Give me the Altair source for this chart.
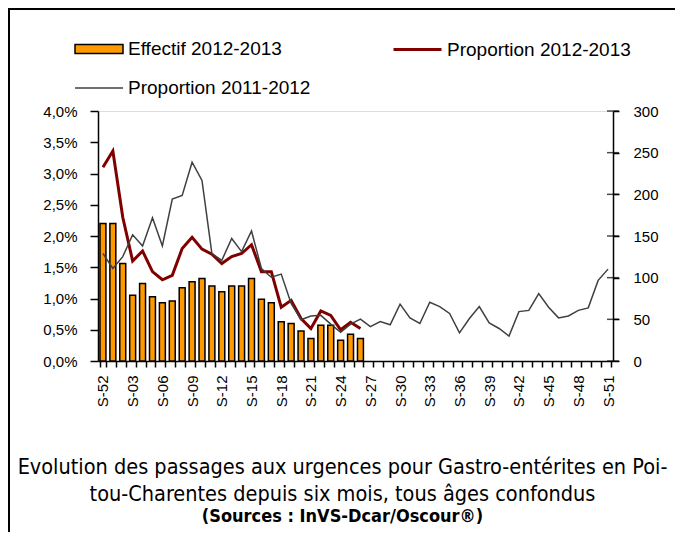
import altair as alt
import pandas as pd

weeks = ["S-52"] + ["S-%02d" % i for i in range(1, 52)]
shown_labels = weeks[::3]

effectif_2012_2013 = [165, 165, 117, 79, 93, 77, 70, 72, 88, 95, 99, 90, 83, 90,
                      90, 99, 74, 70, 47, 45, 36, 27, 43, 43, 25, 32, 27]
prop_2012_2013 = [3.10, 3.36, 2.30, 1.60, 1.76, 1.43, 1.30, 1.37, 1.80, 1.98, 1.79,
                  1.71, 1.56, 1.67, 1.72, 1.86, 1.43, 1.43, 0.86, 0.97, 0.68, 0.52,
                  0.80, 0.73, 0.50, 0.62, 0.52]
prop_2011_2012 = [1.72, 1.48, 1.67, 2.02, 1.84, 2.29, 1.84, 2.59, 2.65, 3.18, 2.89,
                  1.72, 1.61, 1.96, 1.75, 2.08, 1.48, 1.34, 1.39, 0.92, 0.66, 0.72,
                  0.73, 0.59, 0.46, 0.59, 0.67, 0.55, 0.63, 0.58, 0.91, 0.69, 0.60,
                  0.94, 0.87, 0.76, 0.45, 0.68, 0.87, 0.61, 0.52, 0.40, 0.79, 0.81,
                  1.08, 0.86, 0.69, 0.72, 0.81, 0.85, 1.29, 1.47]

left_ticks = [0, 0.5, 1, 1.5, 2, 2.5, 3, 3.5, 4]
right_ticks = [0, 50, 100, 150, 200, 250, 300]

series_names = ["Effectif 2012-2013", "Proportion 2012-2013", "Proportion 2011-2012"]

df_bar = pd.DataFrame({"week": weeks[:len(effectif_2012_2013)],
                       "value": effectif_2012_2013, "serie": series_names[0]})
df_red = pd.DataFrame({"week": weeks[:len(prop_2012_2013)],
                       "value": prop_2012_2013, "serie": series_names[1]})
df_gray = pd.DataFrame({"week": weeks, "value": prop_2011_2012, "serie": series_names[2]})
df_rticks = pd.DataFrame({"value": right_ticks})

FONT = "Liberation Sans, Arial, sans-serif"
NARROW = "Liberation Sans Narrow, Arial Narrow, DejaVu Sans Condensed, sans-serif"

x_enc = alt.X(
    "week:N",
    sort=weeks,
    scale=alt.Scale(domain=weeks, paddingInner=0.4, paddingOuter=0.2),
    axis=alt.Axis(
        title=None, labelAngle=-90, tickBand="extent", tickSize=6,
        labelExpr="indexof(%s, datum.value) >= 0 ? datum.value : ''" % str(shown_labels),
        labelFont=FONT, labelFontSize=15, labelColor="black", labelPadding=8,
        domainColor="black", domainWidth=1.5, tickColor="black", tickWidth=1.5,
        grid=False, labelOverlap=False,
    ),
)

left_axis = alt.Axis(title=None, orient="left", values=left_ticks,
                     labelExpr="replace(format(datum.value, '.1f'), '.', ',') + '%'",
                     tickSize=8, labelPadding=13, labelFont=FONT, labelFontSize=15,
                     labelColor="black", domainColor="black", domainWidth=1.5,
                     tickColor="black", tickWidth=1.5, grid=False, labelOverlap=False)
right_axis = alt.Axis(title=None, orient="right", values=right_ticks,
                      tickSize=6, labelPadding=14, labelFont=FONT, labelFontSize=15,
                      labelColor="black", domainColor="black", domainWidth=1.5,
                      tickColor="black", tickWidth=1.5, grid=False, labelOverlap=False)
y_left = alt.Y("value:Q", scale=alt.Scale(domain=[0, 4], nice=False), axis=left_axis)
y_right = alt.Y("value:Q", scale=alt.Scale(domain=[0, 300], nice=False), axis=right_axis)

legend_common = dict(orient="none", title=None, labelFont=FONT, labelFontSize=19,
                     labelColor="black", padding=0, labelOffset=4, labelLimit=0)

bars = alt.Chart(df_bar).mark_bar(stroke="black", strokeWidth=1.5).encode(
    x=x_enc,
    y=y_right,
    fill=alt.Fill("serie:N", scale=alt.Scale(domain=[series_names[0]], range=["#FF9900"]),
                  legend=alt.Legend(legendX=-24, legendY=-87,
                                    symbolType="M-1,-0.19H1V0.19H-1Z", symbolSize=2304,
                                    symbolStrokeColor="black", symbolStrokeWidth=1.5,
                                    **legend_common)),
)

rticks = alt.Chart(df_rticks).mark_tick(color="black", thickness=1.5, size=12).encode(
    y=y_right, x=alt.value(515))

right_group = alt.layer(bars, rticks)

red = alt.Chart(df_red).mark_line(strokeWidth=3).encode(
    x=x_enc,
    y=y_left,
    stroke=alt.Stroke("serie:N", scale=alt.Scale(domain=[series_names[1]], range=["#800000"]),
                      legend=alt.Legend(legendX=294, legendY=-87,
                                        symbolType="M-1,0H1", symbolSize=2304,
                                        symbolStrokeWidth=3, **legend_common)),
)

gray = alt.Chart(df_gray).mark_line(strokeWidth=1.5).encode(
    x=x_enc,
    y=y_left,
    stroke=alt.Stroke("serie:N", scale=alt.Scale(domain=[series_names[2]], range=["#404040"]),
                      legend=alt.Legend(legendX=-24, legendY=-48,
                                        symbolType="M-1,0H1", symbolSize=2304,
                                        symbolStrokeWidth=1.5, **legend_common)),
)

lines = alt.layer(red, gray).resolve_scale(stroke="independent").resolve_legend(stroke="independent")

frame_df = pd.DataFrame({"k": [0]})
frame_v = alt.Chart(frame_df).mark_rule(color="black", strokeWidth=2).encode(
    x=alt.value(-89), y=alt.value(-103), y2=alt.value(421))
frame_h = alt.Chart(frame_df).mark_rule(color="black", strokeWidth=2).encode(
    x=alt.value(-90), x2=alt.value(577), y=alt.value(-102))

chart = alt.layer(right_group, lines, frame_v, frame_h).resolve_scale(
    y="independent", stroke="independent", fill="independent"
).resolve_legend(stroke="independent", fill="independent").properties(
    width=515,
    height=250,
    padding={"left": 90, "top": 103, "right": 62, "bottom": 171},
    autosize=alt.AutoSizeParams(type="none"),
    title=alt.TitleParams(
        text=["Evolution des passages aux urgences pour Gastro-entérites en Poi-",
              "tou-Charentes depuis six mois, tous âges confondus"],
        subtitle="(Sources : InVS-Dcar/Oscour®)",
        orient="bottom", anchor="middle", frame="group", dx=-13,
        font=NARROW, fontSize=21.5, fontWeight="normal", color="black", lineHeight=27,
        subtitleFont=NARROW, subtitleFontSize=18, subtitleFontWeight="bold",
        subtitleColor="black", subtitlePadding=2, offset=-76,
    ),
).configure_view(stroke=None).configure(background="white")

chart.save("out.html", embed_options={"renderer": "svg", "actions": False})
